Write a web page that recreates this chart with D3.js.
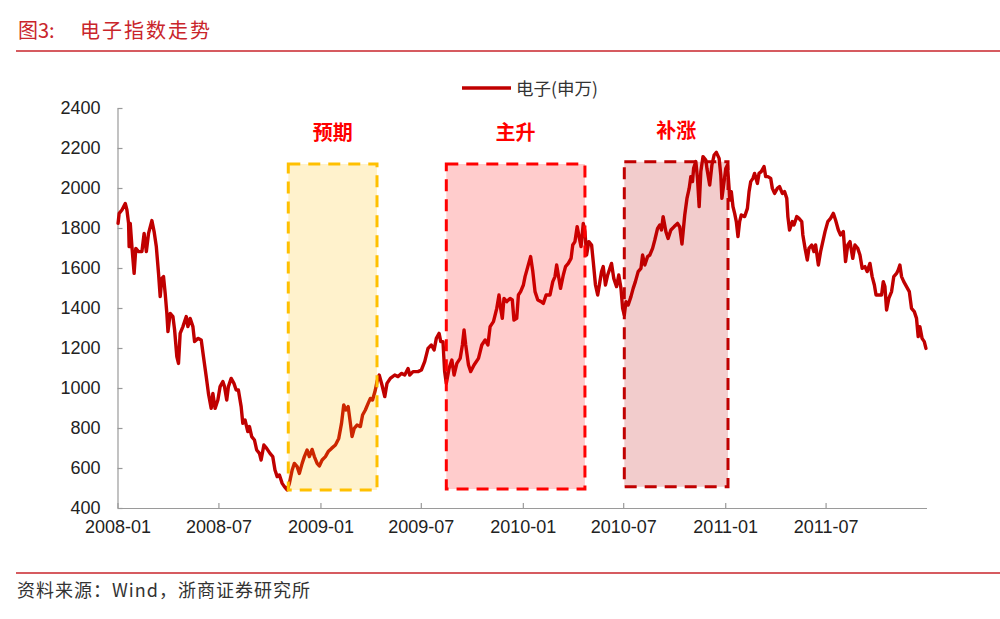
<!DOCTYPE html>
<html><head><meta charset="utf-8">
<script src="https://cdn.jsdelivr.net/npm/d3@7"></script>
<style>
html,body{margin:0;padding:0;background:#fff;}
svg{display:block;}
</style></head>
<body>
<svg id="chart" width="1000" height="619"></svg>
<script>
// ---------- DATA ----------
const dates = [
"2008-01-02","2008-01-04","2008-01-09","2008-01-15","2008-01-18","2008-01-21","2008-01-22","2008-01-24","2008-01-27","2008-01-31",
"2008-02-03","2008-02-08","2008-02-14","2008-02-18","2008-02-22","2008-02-26","2008-03-03","2008-03-07","2008-03-11","2008-03-15",
"2008-03-18","2008-03-21","2008-03-24","2008-03-27","2008-03-30","2008-04-01","2008-04-05","2008-04-10","2008-04-13","2008-04-17",
"2008-04-20","2008-04-23","2008-04-28","2008-05-04","2008-05-07","2008-05-11","2008-05-16","2008-05-19","2008-05-25","2008-05-31",
"2008-06-04","2008-06-09","2008-06-13","2008-06-18","2008-06-21","2008-06-25","2008-06-30","2008-07-04","2008-07-09","2008-07-12",
"2008-07-16","2008-07-19","2008-07-24","2008-07-29","2008-08-02","2008-08-06","2008-08-11","2008-08-14","2008-08-18","2008-08-23",
"2008-08-26","2008-08-30","2008-09-04","2008-09-08","2008-09-13","2008-09-16","2008-09-21","2008-09-26","2008-10-02","2008-10-07",
"2008-10-11","2008-10-15","2008-10-19","2008-10-24","2008-10-28","2008-11-02","2008-11-06","2008-11-11","2008-11-15","2008-11-20",
"2008-11-24","2008-11-29","2008-12-03","2008-12-08","2008-12-12","2008-12-17","2008-12-21","2008-12-26","2008-12-30","2009-01-04",
"2009-01-10","2009-01-15","2009-01-21","2009-01-28","2009-02-03","2009-02-08","2009-02-12","2009-02-16","2009-02-20","2009-02-24",
"2009-02-27","2009-03-03","2009-03-08","2009-03-14","2009-03-18","2009-03-23","2009-03-28","2009-04-01","2009-04-05","2009-04-10",
"2009-04-13","2009-04-17","2009-04-22","2009-04-27","2009-05-01","2009-05-07","2009-05-15","2009-05-21","2009-05-27","2009-06-02",
"2009-06-08","2009-06-11","2009-06-17","2009-06-26","2009-07-02","2009-07-08","2009-07-14","2009-07-20","2009-07-25","2009-07-29",
"2009-08-03","2009-08-06","2009-08-10","2009-08-13","2009-08-16","2009-08-21","2009-08-26","2009-08-30","2009-09-04","2009-09-10",
"2009-09-14","2009-09-17","2009-09-20","2009-09-25","2009-09-29","2009-10-05","2009-10-13","2009-10-19","2009-10-25","2009-10-30",
"2009-11-03","2009-11-09","2009-11-15","2009-11-19","2009-11-22","2009-11-25","2009-11-28","2009-12-03","2009-12-09","2009-12-13",
"2009-12-16","2009-12-21","2009-12-24","2009-12-28","2010-01-02","2010-01-05","2010-01-10","2010-01-15","2010-01-19","2010-01-23",
"2010-01-28","2010-02-03","2010-02-07","2010-02-12","2010-02-19","2010-02-24","2010-02-28","2010-03-03","2010-03-06","2010-03-10",
"2010-03-15","2010-03-19","2010-03-24","2010-03-29","2010-04-01","2010-04-05","2010-04-09","2010-04-13","2010-04-16","2010-04-20",
"2010-04-23","2010-04-26","2010-04-30","2010-05-05","2010-05-08","2010-05-12","2010-05-16","2010-05-20","2010-05-23","2010-05-26",
"2010-05-30","2010-06-03","2010-06-07","2010-06-10","2010-06-14","2010-06-19","2010-06-23","2010-06-27","2010-06-30","2010-07-03",
"2010-07-06","2010-07-10","2010-07-15","2010-07-19","2010-07-23","2010-07-28","2010-08-02","2010-08-05","2010-08-09","2010-08-14",
"2010-08-18","2010-08-23","2010-08-27","2010-09-01","2010-09-05","2010-09-08","2010-09-11","2010-09-16","2010-09-20","2010-09-25",
"2010-10-01","2010-10-07","2010-10-11","2010-10-15","2010-10-20","2010-10-24","2010-10-28","2010-10-31","2010-11-03","2010-11-05",
"2010-11-09","2010-11-12","2010-11-15","2010-11-18","2010-11-22","2010-11-27","2010-11-29","2010-12-04","2010-12-08","2010-12-12",
"2010-12-16","2010-12-21","2010-12-24","2010-12-26","2010-12-30","2011-01-02","2011-01-05","2011-01-08","2011-01-09","2011-01-12",
"2011-01-15","2011-01-18","2011-01-21","2011-01-24","2011-01-27","2011-01-30","2011-02-05","2011-02-10","2011-02-13","2011-02-16",
"2011-02-20","2011-02-23","2011-02-28","2011-03-03","2011-03-07","2011-03-12","2011-03-15","2011-03-19","2011-03-24","2011-03-27",
"2011-03-31","2011-04-05","2011-04-09","2011-04-14","2011-04-18","2011-04-22","2011-04-24","2011-04-27","2011-05-02","2011-05-05",
"2011-05-10","2011-05-14","2011-05-19","2011-05-21","2011-05-25","2011-05-29","2011-06-01","2011-06-06","2011-06-10","2011-06-13",
"2011-06-18","2011-06-22","2011-06-26","2011-06-30","2011-07-05","2011-07-10","2011-07-15","2011-07-19","2011-07-24","2011-07-28",
"2011-08-02","2011-08-06","2011-08-10","2011-08-14","2011-08-19","2011-08-23","2011-08-28","2011-09-01","2011-09-05","2011-09-10",
"2011-09-14","2011-09-19","2011-09-23","2011-09-27","2011-09-30","2011-10-06","2011-10-10","2011-10-13","2011-10-16","2011-10-19",
"2011-10-23","2011-10-28","2011-11-01","2011-11-06","2011-11-09","2011-11-12","2011-11-15","2011-11-19","2011-11-24","2011-11-29",
"2011-12-03","2011-12-08","2011-12-12","2011-12-15","2011-12-18","2011-12-22","2011-12-26","2011-12-29"
];
const values = [
1823,1873,1890,1923,1890,1823,1707,1823,1707,1573,
1698,1682,1682,1773,1682,1773,1837,1782,1707,1573,
1457,1548,1557,1473,1373,1282,1373,1357,1290,1157,
1123,1273,1307,1357,1307,1348,1307,1232,1248,1240,
1157,1057,973,898,973,898,940,1007,1032,1007,
940,1007,1048,1023,990,990,907,823,840,782,
807,757,740,690,673,640,715,698,673,657,
590,557,565,523,507,490,523,590,623,607,
573,623,657,690,657,693,657,623,610,640,
657,682,698,715,748,823,915,890,907,823,
757,798,815,807,865,890,923,948,940,990,
1032,1065,1015,957,1023,1048,1065,1057,1073,1065,
1098,1065,1082,1082,1090,1132,1198,1215,1190,1248,
1273,1232,1232,1082,1023,1098,1140,1065,1123,1148,
1215,1290,1215,1115,1082,1115,1148,1215,1240,1215,
1307,1332,1398,1465,1398,1348,1448,1432,1448,1440,
1340,1348,1465,1482,1515,1557,1607,1657,1582,1482,
1440,1432,1423,1465,1465,1532,1557,1615,1565,1498,
1565,1607,1623,1648,1715,1732,1807,1748,1707,1823,
1782,1665,1732,1715,1632,1515,1465,1532,1582,1607,
1515,1565,1598,1623,1548,1507,1565,1498,1398,1365,
1432,1415,1457,1498,1532,1582,1598,1665,1615,1657,
1665,1698,1740,1798,1815,1790,1857,1782,1748,1790,
1807,1823,1805,1720,1865,1948,1998,2057,2032,2098,
2132,2048,1907,2082,2157,2140,2098,2015,2115,2165,
2178,2148,2065,1948,2032,2098,2115,1998,1940,1982,
1907,1873,1832,1757,1832,1865,1857,1898,1982,2032,
2048,2073,2023,2073,2082,2107,2057,2057,2048,1998,
1973,1998,2007,1973,1982,1948,1857,1790,1832,1815,
1857,1848,1832,1765,1698,1640,1698,1715,1682,1715,
1615,1682,1732,1782,1832,1848,1873,1840,1790,1765,
1782,1632,1715,1732,1648,1715,1698,1665,1598,1607,
1582,1623,1557,1515,1465,1465,1465,1532,1507,1390,
1448,1482,1557,1573,1590,1615,1557,1532,1507,1482,
1398,1382,1348,1257,1307,1248,1232,1198
];
const seriesName = "电子(申万)";
const yTicks = [400,600,800,1000,1200,1400,1600,1800,2000,2200,2400];
const xTickLabels = ["2008-01","2008-07","2009-01","2009-07","2010-01","2010-07","2011-01","2011-07"];

// phase annotation boxes
const phaseNames  = ["预期","主升","补涨"];
const phaseStart  = ["2008-11-04","2009-08-16","2010-07-03"];
const phaseEnd    = ["2009-04-13","2010-04-23","2011-01-06"];
const phaseTop    = [2120,2120,2131];
const phaseBottom = [490,495,506];
const phaseColors = ["#FFC000","#FF0000","#C00000"];

const titleLabel = "图3:";
const titleText = "电子指数走势";
const sourceText = "资料来源：Wind，浙商证券研究所";

// ---------- CHART ----------
const svg = d3.select("#chart");
const parse = d3.utcParse("%Y-%m-%d");
const parseM = d3.utcParse("%Y-%m");
const data = dates.map((d,i)=>({date:parse(d), value:values[i]}));

const x = d3.scaleUtc().domain([parse("2008-01-01"), parse("2011-12-30")]).range([117.5, 926.5]);
const y = d3.scaleLinear().domain([400,2400]).range([508,108]);

const titleRed = "#C9252B";
const cjk = "'Noto Sans CJK SC', sans-serif";
// title
svg.append("text").attr("x",18).attr("y",38)
  .attr("font-family",cjk).attr("font-size",20)
  .attr("fill",titleRed).text(titleLabel);
svg.append("text").attr("x",80).attr("y",38)
  .attr("font-family",cjk).attr("font-size",20).attr("letter-spacing",2)
  .attr("fill",titleRed).text(titleText);
svg.append("line").attr("x1",16).attr("x2",1000).attr("y1",51).attr("y2",51)
  .attr("stroke",titleRed).attr("stroke-width",1.6);

// footer
svg.append("line").attr("x1",16).attr("x2",1000).attr("y1",573).attr("y2",573)
  .attr("stroke",titleRed).attr("stroke-width",1.6);
svg.append("text").attr("x",17).attr("y",597)
  .attr("font-family",cjk).attr("font-size",18).attr("letter-spacing",1)
  .attr("fill","#333").text(sourceText);

// axes
const axisColor = "#9a9a9a";
const fontAxis = "'Liberation Sans', Arial, sans-serif";
const yAxis = d3.axisLeft(y).tickValues(yTicks).tickFormat(d3.format("d"))
  .tickSizeInner(-5).tickSizeOuter(0).tickPadding(17);
const gy = svg.append("g").attr("transform","translate(117.5,0)").call(yAxis);
const xAxis = d3.axisBottom(x).tickValues(xTickLabels.map(parseM)).tickFormat(d3.utcFormat("%Y-%m"))
  .tickSizeInner(-5).tickSizeOuter(0).tickPadding(12);
const gx = svg.append("g").attr("transform","translate(0,508)").call(xAxis);
[gx,gy].forEach(g=>{
  g.select(".domain").attr("stroke",axisColor).attr("stroke-width",1.2);
  g.selectAll(".tick line").attr("stroke",axisColor).attr("stroke-width",1.2);
  g.selectAll(".tick text").attr("font-family",fontAxis).attr("font-size",18).attr("fill","#222");
});

// series line
const line = d3.line().x(d=>x(d.date)).y(d=>y(d.value));
svg.append("path").datum(data).attr("d",line)
  .attr("fill","none").attr("stroke","#C00000").attr("stroke-width",3.4)
  .attr("stroke-linejoin","round").attr("stroke-linecap","round");

// phase boxes (drawn above line, translucent)
phaseNames.forEach((name,i)=>{
  const x0 = x(parse(phaseStart[i])), x1 = x(parse(phaseEnd[i]));
  const y0 = y(phaseTop[i]), y1 = y(phaseBottom[i]);
  svg.append("rect").attr("x",x0).attr("y",y0).attr("width",x1-x0).attr("height",y1-y0)
    .attr("fill",phaseColors[i]).attr("fill-opacity",0.2)
    .attr("stroke",phaseColors[i]).attr("stroke-width",3).attr("stroke-dasharray","12,8");
  svg.append("text").attr("x",(x0+x1)/2).attr("y",y0-24)
    .attr("text-anchor","middle").attr("font-family",cjk)
    .attr("font-weight","bold").attr("font-size",20).attr("fill","#FF0000").text(name);
});

// legend
svg.append("line").attr("x1",462).attr("x2",511).attr("y1",88).attr("y2",88)
  .attr("stroke","#C00000").attr("stroke-width",3.4);
svg.append("text").attr("x",516).attr("y",95)
  .attr("font-family",cjk).attr("font-size",17.5)
  .attr("fill","#333").text(seriesName);
</script>
</body></html>
